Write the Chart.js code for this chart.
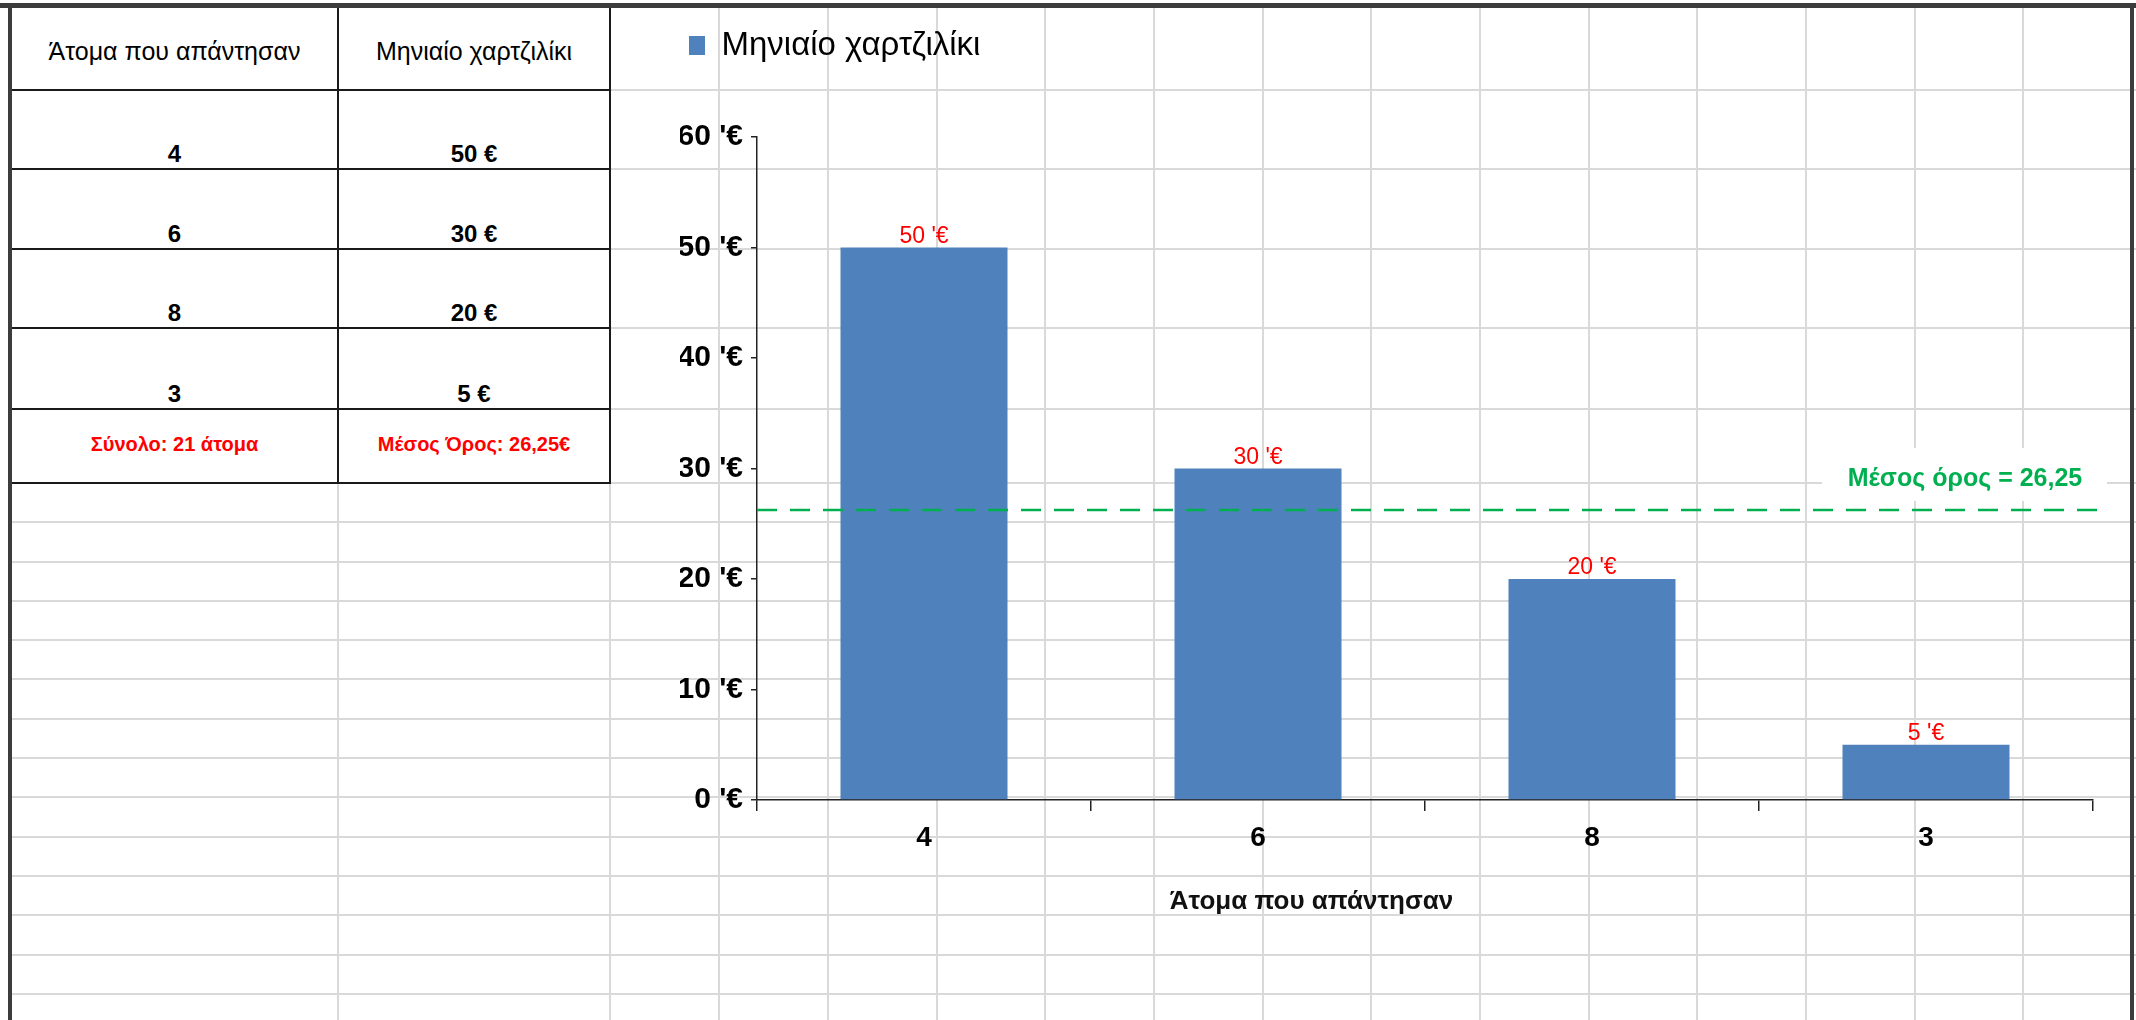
<!DOCTYPE html>
<html>
<head>
<meta charset="utf-8">
<script src="https://cdn.jsdelivr.net/npm/chart.js@4.4.1/dist/chart.umd.min.js"></script>
<style>
  html, body { margin: 0; padding: 0; background: #fff; }
  #sheet { position: relative; width: 2136px; height: 1020px; overflow: hidden;
           font-family: 'Liberation Sans', Arial, sans-serif; }
  .ln { position: absolute; background: #d9d9d9; }
  .bk { position: absolute; background: #1a1a1a; }
  .fr { position: absolute; background: #3c3c3c; }
  .cell { position: absolute; display: flex; justify-content: center; box-sizing: border-box;
          color: #000; white-space: nowrap; }
  #chart { position: absolute; left: 0; top: 0; }
</style>
</head>
<body>
<div id="sheet">
  <div id="grid"></div>
  <canvas id="chart" width="2136" height="1020"></canvas>
</div>
<script>
// values
const people = ['4', '6', '8', '3'];
const pocketMoney = [50, 30, 20, 5];
const tableHeaders = ['Άτομα που απάντησαν', 'Μηνιαίο χαρτζιλίκι'];
const tableTotals = ['Σύνολο: 21 άτομα', 'Μέσος Όρος: 26,25€'];
const seriesName = 'Μηνιαίο χαρτζιλίκι';
const xTitle = 'Άτομα που απάντησαν';
const meanValue = 26.25;
const meanLabel = 'Μέσος όρος = 26,25';

const FONT = "'Liberation Sans', Arial, sans-serif";

/* spreadsheet background */
const grid = document.getElementById('grid');
function box(cls, x, y, w, h) {
    const d = document.createElement('div');
    d.className = cls;
    d.style.cssText = `left:${x}px;top:${y}px;width:${w}px;height:${h}px`;
    grid.appendChild(d);
    return d;
}
const colX = [338, 610, 719, 828, 937, 1045, 1154, 1263, 1371, 1480, 1589, 1697, 1806, 1915, 2023];
const tableRows = [7, 90, 169, 249, 328, 409, 483];
const tableCols = [11, 338, 610];
const rowY = tableRows.slice(1);
for (let y = 522.3; y < 1020; y += 39.3) rowY.push(Math.round(y));

colX.forEach(x => box('ln', x - 1, x <= 610 ? 483 : 8, 2, 1020));
rowY.forEach(y => box('ln', y <= 483 ? 610 : 11, y - 1, 2136, 2));
tableRows.slice(1).forEach(y => box('bk', 11, y - 1, 600, 2));
tableCols.slice(1).forEach(x => box('bk', x - 1, 7, 2, 477));
box('fr', 0, 3, 2136, 5);
box('fr', 8, 3, 4, 1020);
box('fr', 2130, 3, 4, 1020);

function cell(col, row, text, style) {
    const x0 = tableCols[col], x1 = tableCols[col + 1];
    const y0 = tableRows[row], y1 = tableRows[row + 1];
    const d = box('cell', x0, y0, x1 - x0, y1 - y0);
    d.textContent = text;
    Object.assign(d.style, style);
}
tableHeaders.forEach((t, c) => cell(c, 0, t, { alignItems: 'center', fontSize: '25px', paddingTop: '6px' }));
people.forEach((p, r) => {
    const bottom = { alignItems: 'flex-end', fontSize: '24px', fontWeight: 'bold', lineHeight: '24px', paddingBottom: '3px' };
    cell(0, r + 1, p, bottom);
    cell(1, r + 1, pocketMoney[r] + ' €', bottom);
});
tableTotals.forEach((t, c) => cell(c, 5, t, {
    alignItems: 'center', fontSize: '20px', fontWeight: 'bold', color: '#ff0000', paddingBottom: '4px'
}));

/* chart plugins */
const legendGap = {
    id: 'legendGap',
    beforeInit(chart) {
        const fit = chart.legend.fit;
        chart.legend.fit = function () {
            fit.call(this);
            this.height = 117;
        };
    }
};

const barValues = {
    id: 'barValues',
    afterDatasetsDraw(chart) {
        const ctx = chart.ctx;
        ctx.save();
        ctx.fillStyle = '#ff0000';
        ctx.font = `23px ${FONT}`;
        ctx.textAlign = 'center';
        ctx.textBaseline = 'alphabetic';
        chart.getDatasetMeta(0).data.forEach((bar, i) => {
            ctx.fillText(pocketMoney[i] + " '€", bar.x, bar.y - 5);
        });
        ctx.restore();
    }
};

const meanLine = {
    id: 'meanLine',
    afterDatasetsDraw(chart) {
        const ctx = chart.ctx;
        const area = chart.chartArea;
        const y = chart.scales.y.getPixelForValue(meanValue);
        ctx.save();
        ctx.strokeStyle = '#00b050';
        ctx.lineWidth = 2.5;
        ctx.setLineDash([20, 13]);
        ctx.beginPath();
        ctx.moveTo(area.left, y);
        ctx.lineTo(area.right + 15, y);
        ctx.stroke();
        // label with white box
        const cx = area.right - 128;
        ctx.setLineDash([]);
        ctx.fillStyle = '#fff';
        ctx.fillRect(cx - 143, y - 62, 285, 53);
        ctx.fillStyle = '#00b050';
        ctx.font = `bold 25px ${FONT}`;
        ctx.textAlign = 'center';
        ctx.textBaseline = 'middle';
        ctx.fillText(meanLabel, cx, y - 31);
        ctx.restore();
    }
};

const axisTitle = {
    id: 'axisTitle',
    afterDraw(chart) {
        const ctx = chart.ctx;
        const area = chart.chartArea;
        ctx.save();
        ctx.fillStyle = '#111';
        ctx.font = `bold 26px ${FONT}`;
        ctx.textAlign = 'center';
        ctx.textBaseline = 'middle';
        ctx.fillText(xTitle, area.left + 0.415 * (area.right - area.left), area.bottom + 102);
        ctx.restore();
    }
};

new Chart(document.getElementById('chart'), {
    type: 'bar',
    data: {
        labels: people,
        datasets: [{
            label: seriesName,
            data: pocketMoney,
            backgroundColor: '#4f81bd',
            barPercentage: 0.5,
            categoryPercentage: 1
        }]
    },
    options: {
        responsive: false,
        animation: false,
        devicePixelRatio: 1,
        layout: { padding: { left: 680, top: 20, right: 43, bottom: 0 } },
        plugins: {
            legend: {
                align: 'start',
                labels: {
                    boxWidth: 16,
                    boxHeight: 19,
                    padding: 9,
                    color: '#000',
                    font: { family: FONT, size: 33 }
                }
            },
            tooltip: { enabled: false }
        },
        scales: {
            x: {
                grid: { drawOnChartArea: false, tickLength: 11, color: '#222', lineWidth: 1.5 },
                border: { color: '#222', width: 1.5 },
                ticks: { color: '#000', padding: 10, font: { family: FONT, size: 28, weight: 'bold' } },
                afterFit: s => { s.height = 220; }
            },
            y: {
                min: 0,
                max: 60,
                ticks: {
                    stepSize: 10,
                    padding: 8,
                    color: '#000',
                    font: { family: FONT, size: 30, weight: 'bold' },
                    callback: v => v + " '€"
                },
                grid: { drawOnChartArea: false, tickLength: 6, color: '#222', lineWidth: 1.5 },
                border: { color: '#222', width: 1.5 },
                afterFit: s => { s.width = 77; }
            }
        }
    },
    plugins: [legendGap, barValues, meanLine, axisTitle]
});
</script>
</body>
</html>
